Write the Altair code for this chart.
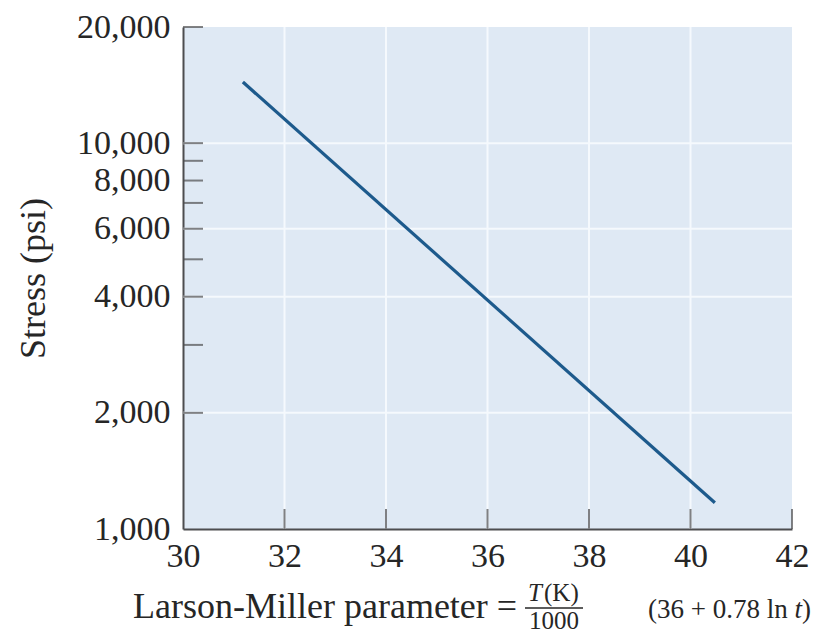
import altair as alt
import pandas as pd

# ---- data ----
lm_param = [31.18, 40.48]          # Larson-Miller parameter at line ends
stress_psi = [14400, 1170]         # stress (psi) at line ends

x_label_values = [30, 32, 34, 36, 38, 40, 42]
x_tick_values = [32, 34, 36, 38, 40, 42]
x_grid_values = [32, 34, 36, 38, 40]
y_label_values = [1000, 2000, 4000, 6000, 8000, 10000, 20000]
y_tick_values = [2000, 3000, 4000, 5000, 6000, 7000, 8000, 9000, 10000, 20000]
y_grid_values = [2000, 4000, 6000, 10000]

W, H = 609, 502
FONT = "Liberation Serif"
AX = "#4d4d4f"
TXT = "#262626"

xs = alt.Scale(domain=[30, 42], nice=False, zero=False)
ys = alt.Scale(type="log", domain=[1000, 20000], nice=False)

X_AXIS = alt.Axis(values=x_label_values, title="", ticks=False, grid=False,
                  domainColor=AX, domainWidth=2,
                  labelFont=FONT, labelFontSize=34, labelColor=TXT,
                  labelPadding=10, labelFlush=False, labelOverlap=False)
Y_AXIS = alt.Axis(values=y_label_values, format=",", title="Stress (psi)",
                  ticks=False, grid=False, domainColor=AX, domainWidth=2,
                  labelFont=FONT, labelFontSize=34, labelColor=TXT,
                  labelPadding=13, labelFlush=False, labelOverlap=False,
                  titleFont=FONT, titleFontSize=36, titleFontWeight="normal",
                  titleColor=TXT, titlePadding=24)

line_df = pd.DataFrame({"lm": lm_param, "stress": stress_psi})
one = pd.DataFrame({"k": [0]})

xgrid = alt.Chart(pd.DataFrame({"v": x_grid_values})).mark_rule(
    color="#f5f9fd", strokeWidth=2
).encode(x=alt.X("v:Q", scale=xs, axis=X_AXIS))

ygrid = alt.Chart(pd.DataFrame({"v": y_grid_values})).mark_rule(
    color="#f5f9fd", strokeWidth=2
).encode(y=alt.Y("v:Q", scale=ys, axis=Y_AXIS))

xticks = alt.Chart(pd.DataFrame({"v": x_tick_values})).mark_tick(
    orient="vertical", size=20, thickness=2, color=AX
).encode(x=alt.X("v:Q", scale=xs, axis=X_AXIS), y=alt.value(H - 10))

yticks = alt.Chart(pd.DataFrame({"v": y_tick_values})).mark_tick(
    orient="horizontal", size=20, thickness=2, color=AX
).encode(y=alt.Y("v:Q", scale=ys, axis=Y_AXIS), x=alt.value(10))

line = alt.Chart(line_df).mark_line(color="#1d5a8c", strokeWidth=3.2).encode(
    x=alt.X("lm:Q", scale=xs, axis=X_AXIS),
    y=alt.Y("stress:Q", scale=ys, axis=Y_AXIS),
)

def txt(s, x, y, size, align="left", style="normal"):
    return alt.Chart(one).mark_text(
        text=s, font=FONT, fontSize=size, fontStyle=style, color=TXT,
        align=align, baseline="alphabetic"
    ).encode(x=alt.value(x), y=alt.value(y))

# plot-area coordinates (origin at top-left of the plot)
BASE = 591
title_main = txt("Larson-Miller parameter =", -50, BASE, 36)
num_T = txt("T", 345, 574, 25, style="italic")
num_K = txt("(K)", 361, 574, 25)
den = txt("1000", 371, 602, 25, align="center")
bar = alt.Chart(one).mark_rule(color=TXT, strokeWidth=1.5).encode(
    x=alt.value(342), x2=alt.value(400), y=alt.value(581))
paren1 = txt("(36 + 0.78 ln ", 465, BASE, 27)
paren_t = txt("t", 611.5, BASE, 27, style="italic")
paren2 = txt(")", 619, BASE, 27)

chart = alt.layer(
    xgrid, ygrid, xticks, yticks, line,
    title_main, num_T, num_K, den, bar, paren1, paren_t, paren2
).properties(
    width=W, height=H,
    autosize=alt.AutoSizeParams(type="none"),
    padding={"left": 175, "top": 19, "right": 21, "bottom": 107},
).configure_view(fill="#dfe9f4", strokeWidth=0)

chart.save("out.html", embed_options={"renderer": "svg", "actions": False})
